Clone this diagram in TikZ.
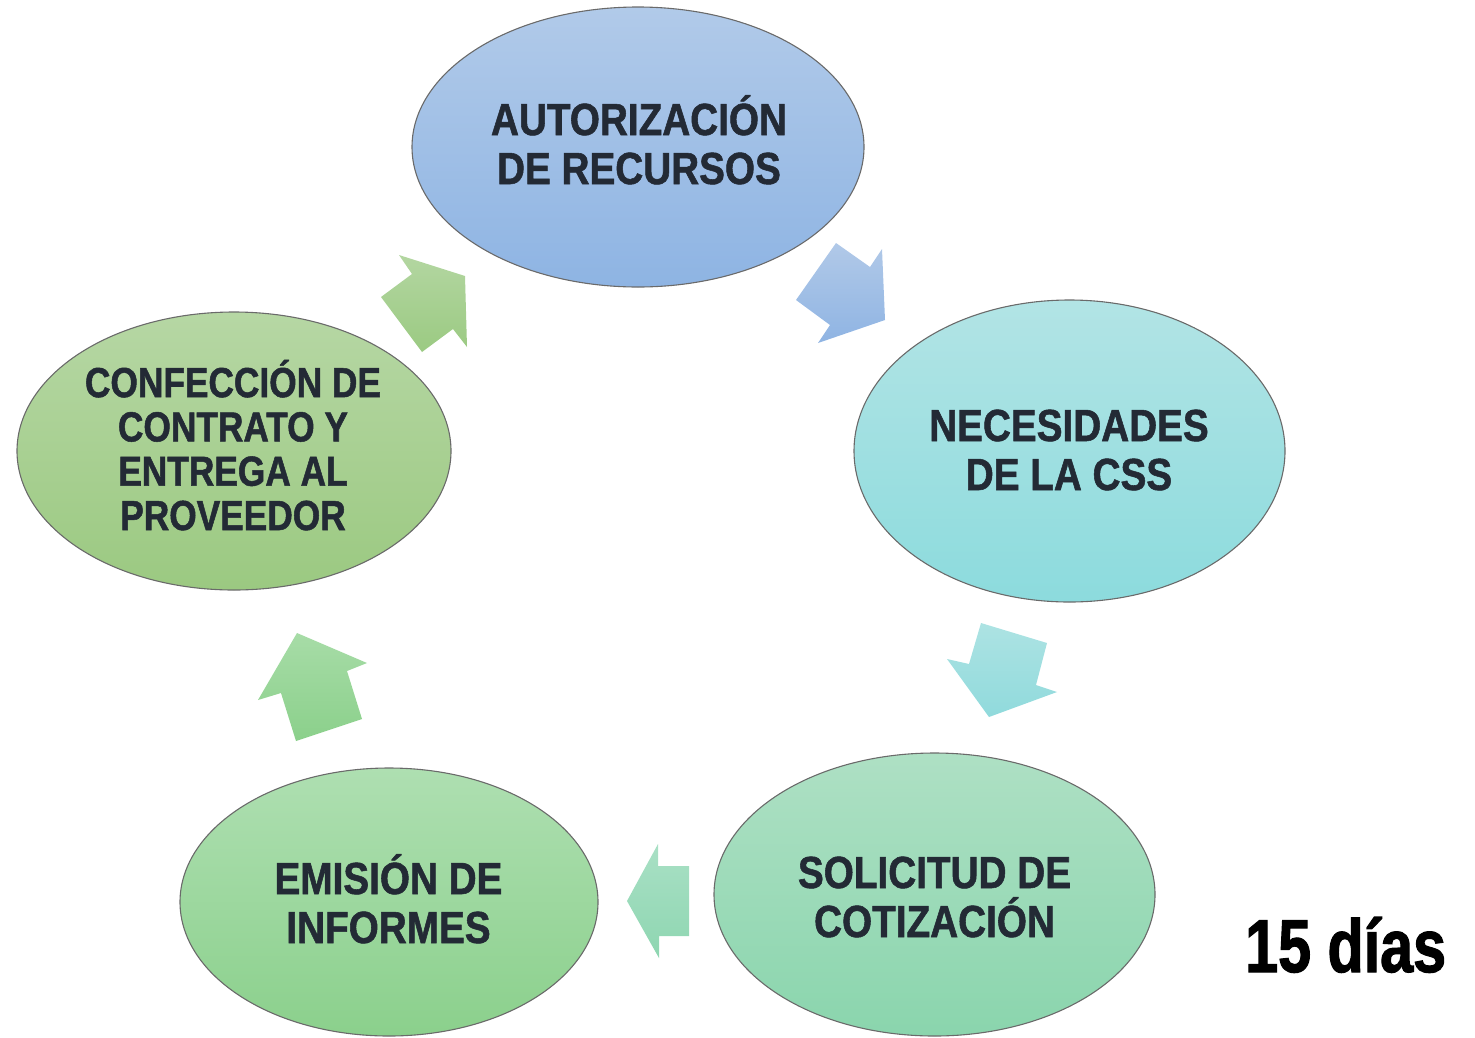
\documentclass[tikz,border=0pt]{standalone}
\usepackage{fontspec}
\newfontfamily\nb{Liberation Sans}[FakeStretch=0.86,FakeBold=1.2]
\newfontfamily\nbs{Liberation Sans}[FakeStretch=0.84,FakeBold=1.2]
\newfontfamily\nbb{Liberation Sans}[FakeStretch=0.79,FakeBold=1.5]
\usetikzlibrary{shapes.geometric}
\definecolor{txtc}{HTML}{232A35}
\definecolor{oline}{HTML}{6A6A6A}
\definecolor{c1t}{HTML}{B1CAE9}\definecolor{c1b}{HTML}{8EB4E3}
\definecolor{c2t}{HTML}{B2E4E5}\definecolor{c2b}{HTML}{8CDBDD}
\definecolor{c3t}{HTML}{AEE0C4}\definecolor{c3b}{HTML}{8AD5AD}
\definecolor{c4t}{HTML}{AEDFB1}\definecolor{c4b}{HTML}{8BD08C}
\definecolor{c5t}{HTML}{B6D7A4}\definecolor{c5b}{HTML}{9BC981}
\definecolor{a1t}{HTML}{B1C9E8}\definecolor{a1b}{HTML}{8FB4E3}
\definecolor{a2t}{HTML}{ADE3E3}\definecolor{a2b}{HTML}{90DADC}
\definecolor{a3t}{HTML}{A9E0C5}\definecolor{a3b}{HTML}{8ED6B1}
\definecolor{a4t}{HTML}{A7DCA7}\definecolor{a4b}{HTML}{8BD08B}
\definecolor{a5t}{HTML}{B3D6A1}\definecolor{a5b}{HTML}{9BCA82}
\tikzset{
  oval/.style={ellipse, inner sep=0pt, draw=oline, line width=1.1pt},
  lbl/.style={anchor=base, align=center, text=txtc, inner sep=0pt,
     font={\nb\bfseries\fontsize{45}{49}\selectfont}},
  lbls/.style={anchor=base, align=center, text=txtc, inner sep=0pt,
     font={\nbs\bfseries\fontsize{42}{44.3}\selectfont}},
  blk/.style={draw=none}
}
\begin{document}
\begin{tikzpicture}[x=1pt,y=-1pt]
\useasboundingbox (0,0) rectangle (1475,1037);
% ellipses
\node[oval, minimum width=452pt, minimum height=280pt, top color=c1t, bottom color=c1b] (e1) at (638,147) {};
\node[oval, minimum width=431pt, minimum height=302pt, top color=c2t, bottom color=c2b] (e2) at (1069.5,451) {};
\node[oval, minimum width=441pt, minimum height=283pt, top color=c3t, bottom color=c3b] (e3) at (934.5,894.5) {};
\node[oval, minimum width=418pt, minimum height=268pt, top color=c4t, bottom color=c4b] (e4) at (389,902) {};
\node[oval, minimum width=434pt, minimum height=278pt, top color=c5t, bottom color=c5b] (e5) at (234,451) {};
% labels (anchor = baseline of last line)
\node[lbl] (t1) at (639,184) {AUTORIZACIÓN\\DE RECURSOS};
\node[lbl] (t2) at (1069,490) {NECESIDADES\\DE LA CSS};
\node[lbl] (t3) at (934.5,937) {SOLICITUD DE\\COTIZACIÓN};
\node[lbl] (t4) at (388.5,943) {EMISIÓN DE\\INFORMES};
\node[lbls] (t5) at (233,530) {CONFECCIÓN DE\\CONTRATO Y\\ENTREGA AL\\PROVEEDOR};
\node[anchor=base west, inner sep=0pt, font={\nbb\bfseries\fontsize{75}{80}\selectfont}] (d) at (1245,972) {15 días};
% block arrows
\shade[blk, top color=a1t, bottom color=a1b]
  (836,243) -- (870,267) -- (882,249) -- (885,320) -- (818,343) -- (830,325) -- (796,300) -- cycle;
\shade[blk, top color=a2t, bottom color=a2b]
  (981,623) -- (1047,643) -- (1036,685) -- (1057,692) -- (989,717) -- (947,659) -- (969,664) -- cycle;
\shade[blk, top color=a3t, bottom color=a3b]
  (658,844) -- (658,866) -- (689,866) -- (689,936) -- (659,936) -- (659,958) -- (627,901) -- cycle;
\shade[blk, top color=a4t, bottom color=a4b]
  (297,633) -- (367,663) -- (347,671) -- (362,719) -- (296,741) -- (281,693) -- (258,700) -- cycle;
\shade[blk, top color=a5t, bottom color=a5b]
  (399,255) -- (465,276) -- (467,347) -- (453,329) -- (422,352) -- (381,297) -- (412,274) -- cycle;
\end{tikzpicture}
\end{document}
